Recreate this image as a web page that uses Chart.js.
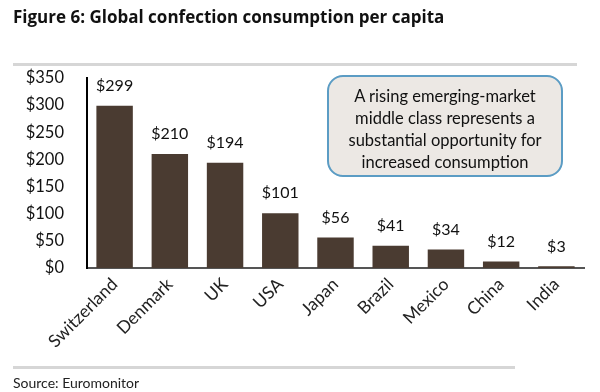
<!DOCTYPE html>
<html>
<head>
<meta charset="utf-8">
<script src="https://cdn.jsdelivr.net/npm/chart.js@4"></script>
<style>
  body { margin: 0; background: #fff; }
  #wrap { position: relative; width: 600px; height: 392px; overflow: hidden; font-family: Lato, "Open Sans", sans-serif; }
  #title { position: absolute; left: 13px; top: 5px; font: bold 17px "Open Sans", sans-serif; color: #111; white-space: nowrap; }
  .rule { position: absolute; left: 13px; height: 3px; background: #d6d6d6; }
  #note { position: absolute; left: 327px; top: 75px; width: 236px; height: 102px; box-sizing: border-box;
          border: 2.5px solid #5b9cc4; border-radius: 16px; background: #ece8e4;
          font: 16.5px Lato, sans-serif; color: #111; text-align: center; line-height: 22px; padding-top: 8px; }
  #source { position: absolute; left: 13px; top: 374px; font: 14px Lato, sans-serif; color: #222; }
  canvas { position: absolute; left: 0; top: 0; }
</style>
</head>
<body>
<div id="wrap">
  <canvas id="bar-chart" width="600" height="392"></canvas>
  <div id="title">Figure 6: Global confection consumption per capita</div>
  <div class="rule" style="top:63px; width:564px;"></div>
  <div id="note">A rising emerging-market<br>middle class represents a<br>substantial opportunity for<br>increased consumption</div>
  <div class="rule" style="top:366px; width:502px;"></div>
  <div id="source">Source: Euromonitor</div>
</div>
<script>
var countries = ["Switzerland", "Denmark", "UK", "USA", "Japan", "Brazil", "Mexico", "China", "India"];
var spendPerCapita = [299, 210, 194, 101, 56, 41, 34, 12, 3];
var yMax = 350;
var yStep = 50;

// draws "$299" etc above each bar
var valueLabels = {
    id: 'valueLabels',
    afterDatasetsDraw: function(chart) {
        var ctx = chart.ctx;
        var meta = chart.getDatasetMeta(0);
        ctx.save();
        ctx.font = '16px Lato, sans-serif';
        ctx.fillStyle = '#111';
        ctx.textAlign = 'center';
        ctx.textBaseline = 'middle';
        meta.data.forEach(function(bar, i) {
            ctx.fillText('$' + spendPerCapita[i], bar.x, bar.y - 20);
        });
        ctx.restore();
    }
};

new Chart(document.getElementById("bar-chart"), {
    type: 'bar',
    data: {
        labels: countries,
        datasets: [{
            data: spendPerCapita,
            backgroundColor: "#4a3b31",
            borderWidth: 0,
            categoryPercentage: 1,
            barPercentage: 0.66
        }]
    },
    options: {
        responsive: false,
        animation: false,
        layout: { padding: { top: 78, right: 16, bottom: 24, left: 0 } },
        plugins: {
            legend: { display: false },
            title: { display: false },
            tooltip: { enabled: false }
        },
        scales: {
            x: {
                grid: { display: false, drawTicks: false },
                border: { display: true, color: '#555', width: 2 },
                ticks: {
                    color: '#222',
                    font: { family: 'Lato', size: 17.5 },
                    minRotation: 45,
                    maxRotation: 45,
                    padding: 6
                },
                afterFit: function(scale) { scale.height = 100; }
            },
            y: {
                min: 0,
                max: yMax,
                grid: { display: false, drawTicks: false },
                border: { display: true, color: '#000', width: 2 },
                ticks: {
                    stepSize: yStep,
                    color: '#111',
                    font: { family: 'Lato', size: 16.5 },
                    padding: 23,
                    callback: function(v) { return '$' + v; }
                },
                afterFit: function(scale) { scale.width = 87; }
            }
        }
    },
    plugins: [valueLabels]
});
</script>
</body>
</html>
